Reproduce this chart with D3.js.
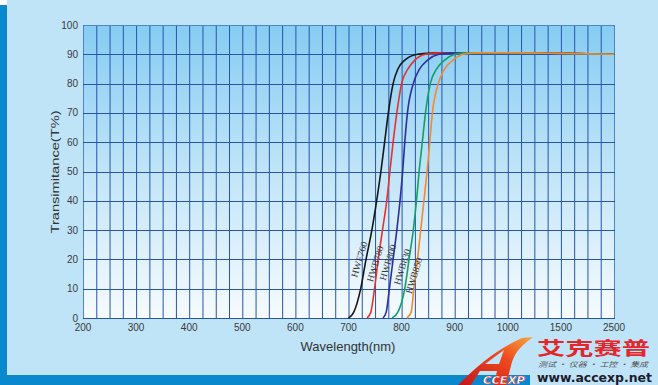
<!DOCTYPE html>
<html>
<head>
<meta charset="utf-8">
<script src="https://cdn.jsdelivr.net/npm/d3@7"></script>
<style>
  html, body { margin: 0; padding: 0; background: #bfe4f8; }
  svg { display: block; }
</style>
</head>
<body>
<div id="chart"></div>
<script>
// axis ticks (equally spaced on the original, so the x scale is piecewise)
const xTicks = [200, 300, 400, 500, 600, 700, 800, 900, 1000, 1500, 2500];
const yTicks = [0, 10, 20, 30, 40, 50, 60, 70, 80, 90, 100];

// filter names, colours and label anchor (wavelength, T)
const names = ["HWF760", "HWB780", "HWB800", "HWB830", "HWB850"];
const colors = ["#161616", "#e8302c", "#2c2f9c", "#10a263", "#f28b2e"];
const labelWl = [720, 750, 774, 801, 823];
const labelT = [20, 18.5, 19, 17.5, 14.5];

// transmission curves, wavelength (nm) / T (%)
const wl760 = [700, 710, 723, 733, 744, 753, 761, 768, 775, 784, 793, 806, 830, 855, 900, 1000, 1500, 2500];
const t760  = [0, 2, 10, 20, 30, 40, 50, 60, 70, 80, 85, 88, 90, 90.4, 90.5, 90.5, 90.3, 90];
const wl780 = [735, 742, 749, 756, 764, 772, 778, 784, 791, 800, 812, 825, 845, 870, 900, 1000, 1500, 2500];
const t780  = [0, 2, 10, 20, 30, 40, 50, 60, 70, 80, 85, 88, 90, 90.4, 90.5, 90.5, 90.3, 90];
const wl800 = [765, 771, 777, 784, 791, 797, 802, 806, 811, 822, 834, 849, 870, 890, 920, 1000, 1500, 2500];
const t800  = [0, 2, 10, 20, 30, 40, 50, 60, 70, 80, 85, 88, 90, 90.4, 90.5, 90.5, 90.3, 90];
const wl830 = [782, 793, 806, 814, 822, 828, 833, 839, 845, 854, 866, 881, 900, 915, 940, 1000, 1500, 2500];
const t830  = [0, 2, 10, 20, 30, 40, 50, 60, 70, 80, 85, 88, 90, 90.4, 90.5, 90.5, 90.3, 90];
const wl850 = [810, 818, 823, 830, 836, 842, 848, 853, 858, 869, 881, 897, 915, 931, 955, 1000, 1500, 2500];
const t850  = [0, 2, 10, 20, 30, 40, 50, 60, 70, 80, 85, 88, 90, 90.4, 90.5, 90.5, 90.3, 90];

const curveWl = [wl760, wl780, wl800, wl830, wl850];
const curveT = [t760, t780, t800, t830, t850];

(function () {
  const W = 658, H = 385;
  const m = { left: 83, right: 614, top: 25, bottom: 318 };
  const svg = d3.select("#chart").append("svg").attr("width", W).attr("height", H);

  const defs = svg.append("defs");
  const g1 = defs.append("linearGradient").attr("id", "plotbg").attr("x1", 0).attr("y1", 0).attr("x2", 0).attr("y2", 1);
  g1.append("stop").attr("offset", "0%").attr("stop-color", "#86ccf2");
  g1.append("stop").attr("offset", "55%").attr("stop-color", "#c6e7f9");
  g1.append("stop").attr("offset", "100%").attr("stop-color", "#f6fbfe");
  const g2 = defs.append("linearGradient").attr("id", "logo").attr("x1", 0).attr("y1", 1).attr("x2", 1).attr("y2", 0);
  g2.append("stop").attr("offset", "0%").attr("stop-color", "#c4151c");
  g2.append("stop").attr("offset", "60%").attr("stop-color", "#ee4a1e");
  g2.append("stop").attr("offset", "100%").attr("stop-color", "#f9a43a");

  // page frame
  svg.append("rect").attr("width", W).attr("height", H).attr("fill", "#bfe4f8");
  svg.append("rect").attr("x", 0).attr("y", 0).attr("width", 7).attr("height", 5).attr("fill", "#ffffff");
  svg.append("rect").attr("x", 0).attr("y", 5).attr("width", 7).attr("height", H - 5).attr("fill", "#0a88cd");
  svg.append("rect").attr("x", 0).attr("y", 375).attr("width", 653).attr("height", 10).attr("fill", "#0a88cd");

  // scales
  const step = (m.right - m.left) / (xTicks.length - 1);
  const x = d3.scaleLinear().domain(xTicks).range(xTicks.map((d, i) => m.left + i * step));
  const y = d3.scaleLinear().domain([0, 100]).range([m.bottom, m.top]);

  // plot background
  svg.append("rect").attr("x", m.left).attr("y", m.top)
    .attr("width", m.right - m.left).attr("height", m.bottom - m.top).attr("fill", "url(#plotbg)");

  // grid: 4 subdivisions between each pair of x ticks
  const vLines = [];
  for (let i = 0; i < xTicks.length - 1; i++) {
    const a = xTicks[i], b = xTicks[i + 1];
    for (let k = 0; k < 4; k++) vLines.push(a + (b - a) * k / 4);
  }
  vLines.push(xTicks[xTicks.length - 1]);
  svg.append("g").selectAll("line").data(vLines).join("line")
    .attr("x1", d => x(d) + 0.5).attr("x2", d => x(d) + 0.5)
    .attr("y1", m.top).attr("y2", m.bottom)
    .attr("stroke", (d, i) => (i === 0 || i === vLines.length - 1) ? "#4f84cc" : "#2654ae")
    .attr("stroke-width", 1);
  svg.append("g").selectAll("line").data(yTicks).join("line")
    .attr("x1", m.left).attr("x2", m.right + 1)
    .attr("y1", d => Math.round(y(d)) + 0.5).attr("y2", d => Math.round(y(d)) + 0.5)
    .attr("stroke", (d, i) => i === yTicks.length - 1 ? "#4f84cc" : "#2654ae")
    .attr("stroke-width", 1);

  // tick labels
  svg.append("g").selectAll("text").data(yTicks).join("text")
    .attr("x", 78).attr("y", d => y(d)).attr("dy", "0.35em")
    .attr("text-anchor", "end")
    .attr("font-family", "Liberation Sans, Arial, sans-serif").attr("font-size", 10)
    .attr("fill", "#3a3a3a").text(d => d);
  svg.append("g").selectAll("text").data(xTicks).join("text")
    .attr("x", d => x(d)).attr("y", 331)
    .attr("text-anchor", "middle")
    .attr("font-family", "Liberation Sans, Arial, sans-serif").attr("font-size", 10)
    .attr("fill", "#3a3a3a").text(d => d);

  // axis titles
  svg.append("text").attr("x", 348).attr("y", 351).attr("text-anchor", "middle")
    .attr("font-family", "Liberation Sans, Arial, sans-serif").attr("font-size", 13)
    .attr("fill", "#333").text("Wavelength(nm)");
  svg.append("text").attr("transform", "translate(59,172) rotate(-90)")
    .attr("text-anchor", "middle")
    .attr("font-family", "Liberation Sans, Arial, sans-serif").attr("font-size", 11.5)
    .attr("textLength", 123).attr("lengthAdjust", "spacingAndGlyphs")
    .attr("fill", "#333").text("Transimitance(T%)");

  // curves
  const line = d3.line().x(d => x(d[0])).y(d => y(d[1])).curve(d3.curveMonotoneX);
  const series = names.map((n, i) => ({ name: n, color: colors[i], pts: curveWl[i].map((w, j) => [w, curveT[i][j]]) }));
  svg.append("g").selectAll("path").data(series).join("path")
    .attr("d", d => line(d.pts))
    .attr("fill", "none").attr("stroke", d => d.color).attr("stroke-width", 1.6);

  // curve labels
  svg.append("g").selectAll("text").data(names).join("text")
    .attr("transform", (d, i) => `translate(${x(labelWl[i])},${y(labelT[i])}) rotate(-73)`)
    .attr("text-anchor", "middle").attr("dy", "0.35em")
    .attr("font-family", "Liberation Serif, Times New Roman, serif").attr("font-size", 9.5)
    .attr("textLength", 37).attr("lengthAdjust", "spacingAndGlyphs")
    .attr("fill", "#333").text(d => d);

  // logo corner
  svg.append("rect").attr("x", 530).attr("y", 369).attr("width", 123).attr("height", 16).attr("fill", "#bfe4f8");
  svg.append("path")
    .attr("d", "M458,385 C475,368 495,350 522,338 L533,337 C522,345 515,352 512,362 L506,385 L494,385 L497,371 L480,371 L471,385 Z M485,364 L499,364 L504,350 Z")
    .attr("fill", "url(#logo)").attr("fill-rule", "evenodd");
  svg.append("text").attr("x", 483).attr("y", 384)
    .attr("font-family", "DejaVu Sans, sans-serif").attr("font-size", 10).attr("font-weight", "bold")
    .attr("font-style", "italic").attr("fill", "#ffffff").attr("stroke", "#d8262a").attr("stroke-width", 0.4)
    .attr("textLength", 42).attr("lengthAdjust", "spacingAndGlyphs").text("CCEXP");
  svg.append("text").attr("x", 537).attr("y", 355)
    .attr("font-family", "Noto Sans CJK SC, sans-serif").attr("font-size", 18).attr("font-weight", "bold")
    .attr("fill", "#e4262c").attr("textLength", 113).attr("lengthAdjust", "spacingAndGlyphs").text("艾克赛普");
  svg.append("text").attr("x", 538).attr("y", 367)
    .attr("font-family", "Noto Sans CJK SC, sans-serif").attr("font-size", 7).attr("font-style", "italic")
    .attr("fill", "#555").attr("textLength", 110).attr("lengthAdjust", "spacingAndGlyphs").text("测试 · 仪器 · 工控 · 集成");
  svg.append("text").attr("x", 537).attr("y", 382)
    .attr("font-family", "DejaVu Sans, sans-serif").attr("font-size", 11.5).attr("font-weight", "bold")
    .attr("fill", "#1c1c2e").attr("textLength", 115).attr("lengthAdjust", "spacingAndGlyphs").text("www.accexp.net");
})();
</script>
</body>
</html>
